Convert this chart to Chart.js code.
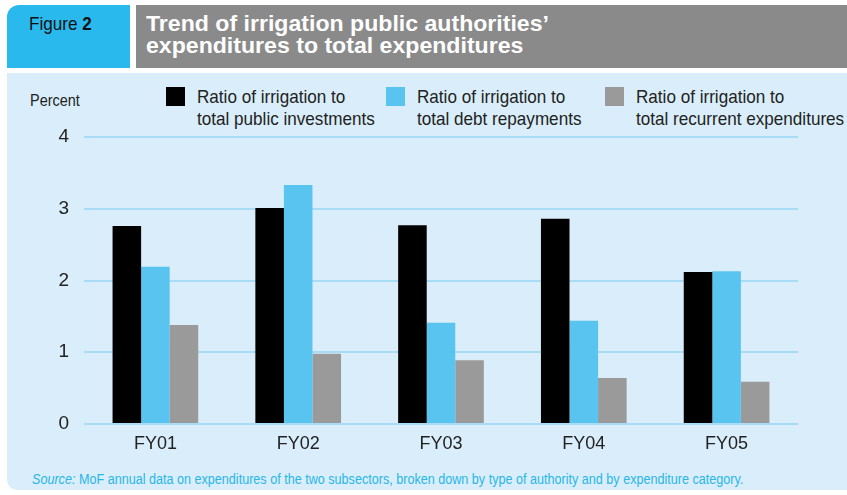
<!DOCTYPE html>
<html lang="en">
<head>
    <meta charset="UTF-8">
    <title>Figure 2</title>
    <style>
        body { margin: 0; width: 847px; height: 495px; background: #fff; position: relative; overflow: hidden;
               font-family: "Liberation Sans", Arial, sans-serif; }
        .fig { position: absolute; left: 7px; top: 5px; width: 123px; height: 63px; background: #29b9ec;
               border-top-left-radius: 12px; }
        .fig div { position: absolute; left: 22px; top: 8px; font-size: 19px; color: #111; white-space: nowrap;
                   transform: scaleX(0.9); transform-origin: left top; }
        .head { position: absolute; left: 136px; top: 5px; right: 0; height: 63px; background: #8a8a8a; }
        .head div { position: absolute; left: 10px; top: 8px; color: #fff; font-weight: bold; font-size: 22px;
                    line-height: 22px; white-space: nowrap; transform: scaleX(1.05); transform-origin: left top; }
        .panel { position: absolute; left: 7px; top: 73px; right: 0; height: 417px; background: #d9eefa;
                 border-bottom-left-radius: 10px; }
        .unit { position: absolute; left: 30px; top: 91px; font-size: 17px; color: #222;
                transform: scaleX(0.85); transform-origin: left top; }
        .legend { position: absolute; top: 86px; font-size: 19px; line-height: 22px; color: #222; white-space: nowrap; }
        .legend i { position: absolute; left: 0; top: 1px; width: 19px; height: 19px; }
        .legend span { display: block; margin-left: 31px; transform: scaleX(0.9); transform-origin: left top; }
        .source { position: absolute; left: 32px; top: 471px; font-size: 14px; color: #29b6e8; white-space: nowrap;
                  transform: scaleX(0.9); transform-origin: left top; }
        #wrap { position: absolute; left: 0; top: 0; width: 847px; height: 495px; }
    </style>
</head>
<body>
<div class="fig"><div>Figure <b>2</b></div></div>
<div class="head"><div>Trend of irrigation public authorities’<br>expenditures to total expenditures</div></div>
<div class="panel"></div>
<div class="unit">Percent</div>
<div id="legend"></div>
<div class="source"><i>Source:</i> MoF annual data on expenditures of the two subsectors, broken down by type of authority and by expenditure category.</div>
<div id="wrap"><canvas id="myChart" width="847" height="495"></canvas></div>

<script src="https://cdn.jsdelivr.net/npm/chart.js"></script>
<script>
    const years = ["FY01", "FY02", "FY03", "FY04", "FY05"];
    const publicInvestments = [2.76, 3.01, 2.77, 2.86, 2.12];
    const debtRepayments = [2.19, 3.33, 1.41, 1.44, 2.13];
    const recurrentExpenditures = [1.38, 0.98, 0.89, 0.64, 0.59];
    const seriesNames = [
        ["Ratio of irrigation to", "total public investments"],
        ["Ratio of irrigation to", "total debt repayments"],
        ["Ratio of irrigation to", "total recurrent expenditures"]
    ];
    const yTicks = [0, 1, 2, 3, 4];

    const colors = ["#000000", "#5ac4f0", "#9a9a9a"];
    const legendX = [166, 386, 605];

    let legend = document.getElementById("legend");
    seriesNames.forEach((name, i) => {
        let d = document.createElement("div");
        d.className = "legend";
        d.style.left = legendX[i] + "px";
        d.innerHTML = '<i style="background:' + colors[i] + '"></i><span>' + name.join("<br>") + '</span>';
        legend.appendChild(d);
    });

    let ctx = document.getElementById("myChart").getContext('2d');
    let chart = new Chart(ctx, {
        type: 'bar',
        data: {
            labels: years,
            datasets: [
                {label: seriesNames[0].join(" "), data: publicInvestments, backgroundColor: colors[0]},
                {label: seriesNames[1].join(" "), data: debtRepayments, backgroundColor: colors[1]},
                {label: seriesNames[2].join(" "), data: recurrentExpenditures, backgroundColor: colors[2]},
            ],
        },
        options: {
            responsive: false,
            animation: false,
            devicePixelRatio: 1,
            layout: {padding: {left: 0, top: 137, right: 49, bottom: 31}},
            plugins: {legend: {display: false}, tooltip: {enabled: false}},
            datasets: {bar: {categoryPercentage: 0.6, barPercentage: 1.0}},
            scales: {
                x: {
                    grid: {display: false},
                    border: {display: false},
                    ticks: {color: "#222", padding: 1, font: {family: "Liberation Sans", size: 18}},
                    afterFit: s => { s.height = 40; }
                },
                y: {
                    min: 0,
                    max: 4,
                    afterBuildTicks: s => { s.ticks = yTicks.map(v => ({value: v})); },
                    grid: {color: "#a8dbf5", lineWidth: 2, drawTicks: false},
                    border: {display: false},
                    ticks: {color: "#222", padding: 15, font: {family: "Liberation Sans", size: 19}},
                    afterFit: s => { s.width = 84; }
                }
            }
        }
    });
</script>
</body>
</html>
